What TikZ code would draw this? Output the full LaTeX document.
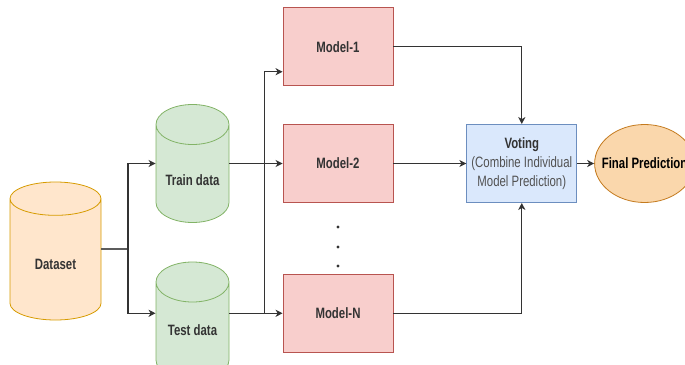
\documentclass[tikz,border=0pt]{standalone}
\usepackage{fontspec}
\setmainfont{Liberation Sans}[FakeStretch=0.76]
\usetikzlibrary{arrows.meta}
\usetikzlibrary{shapes.geometric}
\usetikzlibrary{positioning}
\definecolor{dsfill}{HTML}{FFE6CC}
\definecolor{dsline}{HTML}{D79B00}
\definecolor{tdfill}{HTML}{D5E8D4}
\definecolor{tdline}{HTML}{82B366}
\definecolor{mdfill}{HTML}{F8CECC}
\definecolor{mdline}{HTML}{B85450}
\definecolor{vtfill}{HTML}{DAE8FC}
\definecolor{vtline}{HTML}{6C8EBF}
\definecolor{fpfill}{HTML}{FAD7AC}
\definecolor{fpline}{HTML}{C47A1E}
\definecolor{ink}{HTML}{333333}
\tikzstyle{big} = [font=\bfseries\fontsize{15}{19}\selectfont, text=ink]
\tikzstyle{store} = [cylinder, shape border rotate=90, draw, line width=0.8pt,
    anchor=shape center]
\tikzstyle{dataset} = [store, fill=dsfill, draw=dsline,
    minimum width=91pt, minimum height=138pt, aspect=5]
\tikzstyle{split} = [store, fill=tdfill, draw=tdline,
    minimum width=73pt, minimum height=118pt, aspect=6]
\tikzstyle{model} = [rectangle, draw=mdline, fill=mdfill, line width=0.8pt,
    minimum width=110pt, minimum height=78pt, big]
\tikzstyle{vote} = [rectangle, draw=vtline, fill=vtfill, line width=0.8pt,
    minimum width=110pt, minimum height=78pt, align=center,
    font=\fontsize{15}{19}\selectfont, text=ink]
\tikzstyle{result} = [ellipse, draw=fpline, fill=fpfill, line width=0.8pt,
    minimum width=100pt, minimum height=78pt]
\tikzstyle{line} = [draw, -{Stealth[length=7pt, width=7pt, inset=2pt]},
    line width=1.2pt, ink]

\begin{document}
\begin{tikzpicture}[x=1pt, y=-1pt]
    \useasboundingbox (0,0) rectangle (685,364);
    % Place nodes
    \node[dataset, label={[big, yshift=-2pt]center:Dataset}] (dataset) at (55.5,251) {};
    \node[split, label={[big, yshift=-2.5pt]center:Train data}] (train) at (192.5,163.5) {};
    \node[split, label={[big, yshift=5pt]center:Test data}] (test) at (192.5,321) {};
    \node[model] (model2) at (338,163.5) {Model-2};
    \node[model, above=38pt of model2] (model1) {Model-1};
    \node[model, below=71pt of model2] (modelN) {Model-N};
    \node[vote, right=73pt of model2] (voting) {{\bfseries Voting}\\
        \textcolor{ink!85}{(Combine Individual}\\\textcolor{ink!85}{Model Prediction)}};
    \node[result, right=17pt of voting, label={[big, text=black]center:Final Prediction}] (final) {};
    \foreach \y in {227,247,266}
        \fill[ink] (338,\y) circle (1.6pt);
    % Draw edges
    \coordinate (fork) at (128,249);
    \coordinate[left=18pt of modelN.west] (rise);
    \draw[ink!80, line width=1.2pt] (dataset.east |- fork) -- (fork);
    \path [line] (fork) |- (model2.west -| train.west);
    \path [line] (fork) |- (modelN.west -| test.west);
    \path [line] (model2.west -| train.east) -- (model2.west);
    \path [line] (modelN.west -| test.east) -- (modelN.west);
    \path [line] (rise) |- ([yshift=-25pt]model1.west);
    \path [line] (model1.east) -| (voting.north);
    \path [line] (model2.east) -- (voting.west);
    \path [line] (modelN.east) -| (voting.south);
    \path [line] (voting.east) -- (final.west);
\end{tikzpicture}
\end{document}
